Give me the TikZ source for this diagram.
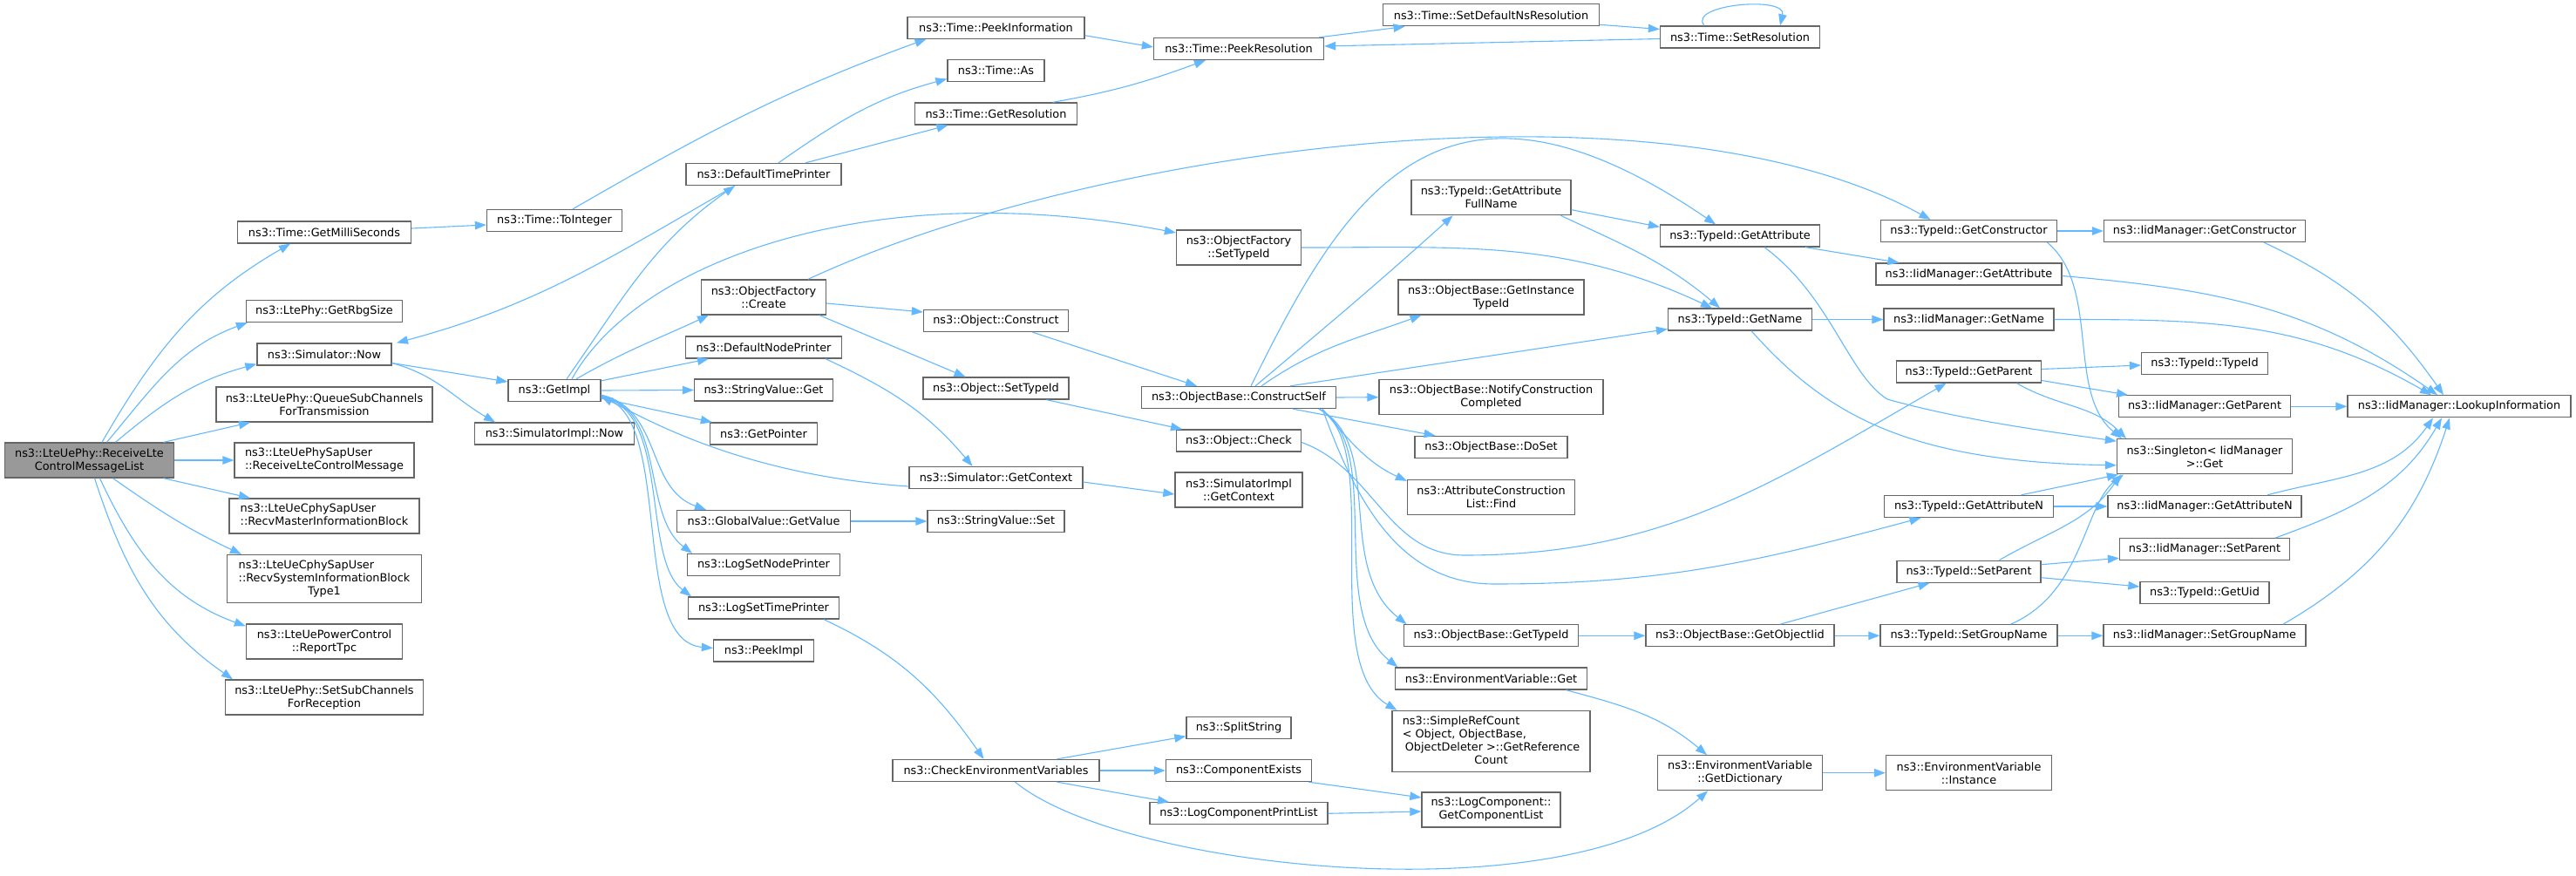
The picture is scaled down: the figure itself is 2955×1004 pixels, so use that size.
\documentclass[tikz,border=0pt]{standalone}
\usepackage{fontspec}
\setmainfont{DejaVu Sans}
\usetikzlibrary{arrows.meta}
\definecolor{edgeblue}{HTML}{63B8FF}
\definecolor{bordergray}{HTML}{666666}
\definecolor{mainfill}{HTML}{999999}
\newcommand{\nfont}{\fontsize{12.85}{15}\selectfont}
\newcommand{\ltwo}[2]{\begin{tabular}{@{}l@{}}#1\\\multicolumn{1}{@{}c@{}}{#2}\end{tabular}}
\tikzset{
  nb/.style={draw=bordergray, line width=1.3pt, fill=white, inner xsep=2pt, inner ysep=0pt, align=center, font=\nfont, text=black},
  hA/.style={minimum height=25pt},
  hB/.style={minimum height=40pt},
  hC/.style={minimum height=55pt},
  hD/.style={minimum height=70pt},
  wd/.style={minimum width=#1pt},
  cl/.style={draw=edgeblue, line width=1.1pt, -{Triangle[length=13pt,width=9.5pt]}},
}
\begin{document}
\begin{tikzpicture}[x=1pt,y=-1pt]
\useasboundingbox (0,0) rectangle (2955,1004);
% column 0/1
\node[nb,hB,wd=194,fill=mainfill] (main) at (102.5,528) {ns3::LteUePhy::ReceiveLte\\ControlMessageList};
\node[nb,hA,wd=199] (gms) at (372,266.5) {ns3::Time::GetMilliSeconds};
\node[nb,hA,wd=179] (grs) at (372,357) {ns3::LtePhy::GetRbgSize};
\node[nb,hA,wd=154] (snow) at (372,406.5) {ns3::Simulator::Now};
\node[nb,hB,wd=248] (qsc) at (372,464) {ns3::LteUePhy::QueueSubChannels\\ForTransmission};
\node[nb,hB,wd=206] (rlcm) at (372,528) {\ltwo{ns3::LteUePhySapUser}{::ReceiveLteControlMessage}};
\node[nb,hB,wd=218] (rmib) at (372,592) {\ltwo{ns3::LteUeCphySapUser}{::RecvMasterInformationBlock}};
\node[nb,hC,wd=223] (rsib) at (372,664) {\begin{tabular}{@{}l@{}}ns3::LteUeCphySapUser\\::RecvSystemInformationBlock\\\multicolumn{1}{@{}c@{}}{Type1}\end{tabular}};
\node[nb,hB,wd=179] (rtpc) at (372,736) {ns3::LteUePowerControl\\::ReportTpc};
\node[nb,hB,wd=227] (sscr) at (372,800) {ns3::LteUePhy::SetSubChannels\\ForReception};
% column 2
\node[nb,hA,wd=155] (toint) at (636,253) {ns3::Time::ToInteger};
\node[nb,hA,wd=106] (gimpl) at (636,448) {ns3::GetImpl};
\node[nb,hA,wd=183] (sinow) at (636,497.5) {ns3::SimulatorImpl::Now};
% column 3
\node[nb,hA,wd=178] (dtp) at (876,200) {ns3::DefaultTimePrinter};
\node[nb,hB,wd=143] (ofc) at (876,341) {ns3::ObjectFactory\\::Create};
\node[nb,hA,wd=179] (dnp) at (876,398.5) {ns3::DefaultNodePrinter};
\node[nb,hA,wd=159] (svget) at (876,447.5) {ns3::StringValue::Get};
\node[nb,hA,wd=123] (gptr) at (876,497.5) {ns3::GetPointer};
\node[nb,hA,wd=199] (gvgv) at (876,598) {ns3::GlobalValue::GetValue};
\node[nb,hA,wd=175] (lsnp) at (876,648) {ns3::LogSetNodePrinter};
\node[nb,hA,wd=173] (lstp) at (876,697.5) {ns3::LogSetTimePrinter};
\node[nb,hA,wd=115] (pimpl) at (876,746.5) {ns3::PeekImpl};
% column 4
\node[nb,hA,wd=203] (tpi) at (1142.5,31.7) {ns3::Time::PeekInformation};
\node[nb,hA,wd=111] (tas) at (1142.5,81) {ns3::Time::As};
\node[nb,hA,wd=186] (tgr) at (1142.5,130.5) {ns3::Time::GetResolution};
\node[nb,hA,wd=166] (ocon) at (1142.5,368) {ns3::Object::Construct};
\node[nb,hA,wd=167] (ost) at (1142.5,445.5) {ns3::Object::SetTypeId};
\node[nb,hA,wd=199] (sgc) at (1142.5,548) {ns3::Simulator::GetContext};
\node[nb,hA,wd=157] (svset) at (1142.5,598) {ns3::StringValue::Set};
\node[nb,hA,wd=237] (cev) at (1142.5,884) {ns3::CheckEnvironmentVariables};
% column 5
\node[nb,hA,wd=195] (tpr) at (1421,56) {ns3::Time::PeekResolution};
\node[nb,hB,wd=143] (ofst) at (1421,284) {ns3::ObjectFactory\\::SetTypeId};
\node[nb,hA,wd=223] (cself) at (1421,456) {ns3::ObjectBase::ConstructSelf};
\node[nb,hA,wd=143] (ochk) at (1421,505.5) {ns3::Object::Check};
\node[nb,hB,wd=146] (sigc) at (1421,562) {ns3::SimulatorImpl\\::GetContext};
\node[nb,hA,wd=120] (split) at (1421,834.7) {ns3::SplitString};
\node[nb,hA,wd=167] (cex) at (1421,884) {ns3::ComponentExists};
\node[nb,hA,wd=204] (lcpl) at (1421,933.3) {ns3::LogComponentPrintList};
% column 6
\node[nb,hA,wd=248] (sdnr) at (1710.5,17.3) {ns3::Time::SetDefaultNsResolution};
\node[nb,hB,wd=183] (gafn) at (1710.5,226.7) {ns3::TypeId::GetAttribute\\FullName};
\node[nb,hB,wd=213] (giti) at (1710.5,341) {ns3::ObjectBase::GetInstance\\TypeId};
\node[nb,hB,wd=257] (ncc) at (1710.5,455.7) {ns3::ObjectBase::NotifyConstruction\\Completed};
\node[nb,hA,wd=175] (doset) at (1710.5,513) {ns3::ObjectBase::DoSet};
\node[nb,hB,wd=192] (acl) at (1710.5,570.5) {ns3::AttributeConstruction\\List::Find};
\node[nb,hA,wd=200] (obgt) at (1710.5,729.3) {ns3::ObjectBase::GetTypeId};
\node[nb,hA,wd=220] (evg) at (1710.5,778.5) {ns3::EnvironmentVariable::Get};
\node[nb,hD,wd=227] (src) at (1710.5,850.5) {\begin{tabular}{@{}l@{}}ns3::SimpleRefCount\\< Object, ObjectBase,\\\hspace{3pt}ObjectDeleter >::GetReference\\\multicolumn{1}{@{}c@{}}{Count}\end{tabular}};
\node[nb,hB,wd=159] (gcl) at (1710.5,929) {ns3::LogComponent::\\GetComponentList};
% column 7
\node[nb,hA,wd=183] (tsr) at (1996,42.5) {ns3::Time::SetResolution};
\node[nb,hA,wd=183] (tga) at (1996,270.5) {ns3::TypeId::GetAttribute};
\node[nb,hA,wd=165] (tgn) at (1996,366.5) {ns3::TypeId::GetName};
\node[nb,hA,wd=216] (goi) at (1996,729.3) {ns3::ObjectBase::GetObjectIid};
\node[nb,hB,wd=189] (gdict) at (1996,886.7) {ns3::EnvironmentVariable\\::GetDictionary};
% column 8
\node[nb,hA,wd=202] (tgc) at (2258.5,265) {ns3::TypeId::GetConstructor};
\node[nb,hA,wd=213] (imga) at (2258.5,314.5) {ns3::IidManager::GetAttribute};
\node[nb,hA,wd=195] (imgn) at (2258.5,366.5) {ns3::IidManager::GetName};
\node[nb,hA,wd=166] (tgp) at (2258.5,426.5) {ns3::TypeId::GetParent};
\node[nb,hA,wd=194] (tgan) at (2258.5,581) {ns3::TypeId::GetAttributeN};
\node[nb,hA,wd=165] (tsp) at (2258.5,655.7) {ns3::TypeId::SetParent};
\node[nb,hA,wd=203] (tsgn) at (2258.5,729.3) {ns3::TypeId::SetGroupName};
\node[nb,hB,wd=190] (inst) at (2258.5,886.7) {ns3::EnvironmentVariable\\::Instance};
% column 9
\node[nb,hA,wd=231] (imgc) at (2529,265) {ns3::IidManager::GetConstructor};
\node[nb,hA,wd=145] (ttid) at (2529,417) {ns3::TypeId::TypeId};
\node[nb,hA,wd=197] (imgp) at (2529,466.3) {ns3::IidManager::GetParent};
\node[nb,hB,wd=201] (sing) at (2529,523.8) {ns3::Singleton< IidManager\\>::Get};
\node[nb,hA,wd=222] (imgan) at (2529,581) {ns3::IidManager::GetAttributeN};
\node[nb,hA,wd=195] (imsp) at (2529,630.3) {ns3::IidManager::SetParent};
\node[nb,hA,wd=148] (guid) at (2529,680) {ns3::TypeId::GetUid};
\node[nb,hA,wd=232] (imsgn) at (2529,729.3) {ns3::IidManager::SetGroupName};
% column 10
\node[nb,hA,wd=256] (lookup) at (2821,466.3) {ns3::IidManager::LookupInformation};

% edges from main
\draw[cl] ([xshift=14.5]main.north) to[out=60,in=210] ([xshift=-39]gms.south);
\draw[cl] ([xshift=20]main.north) to[out=50,in=200] ([xshift=2]grs.south west);
\draw[cl] ([xshift=30]main.north) to[out=40,in=195] ([yshift=2]snow.south west);
\draw[cl] ([xshift=85]main.north) -- ([xshift=-85]qsc.south);
\draw[cl] (main.east) -- (rlcm.west);
\draw[cl] ([xshift=85]main.south) -- ([xshift=-85]rmib.north);
\draw[cl] ([xshift=27]main.south) to[out=-35,in=155] ([xshift=-95]rsib.north);
\draw[cl] ([xshift=12]main.south) to[out=-65,in=160] ([yshift=-3]rtpc.north west);
\draw[cl] ([xshift=6]main.south) to[out=-72,in=145] ([xshift=-105]sscr.north);
% time
\draw[cl] ([yshift=4.5]gms.east) -- ([yshift=-5]toint.west);
\draw[cl] ([xshift=21]toint.north) to[out=30,in=200] ([xshift=-80]tpi.south);
\draw[cl] ([xshift=-33]dtp.south) to[out=210,in=15] ([xshift=83]snow.north);
\draw[cl] ([yshift=-10]snow.east) -- ([yshift=10]gimpl.west);
\draw[cl] ([yshift=-10]snow.east) to[out=-15,in=150] ([xshift=-68]sinow.north);
\draw[cl] ([xshift=14]gimpl.north) to[out=55,in=215] ([xshift=-33]dtp.south);
\draw[cl] ([xshift=20]gimpl.north) .. controls (730,300) and (1000,200) .. ([yshift=17]ofst.west);
\draw[cl] ([xshift=25]gimpl.north) to[out=30,in=205] ([xshift=-63]ofc.south);
\draw[cl] ([yshift=-2]gimpl.north east) -- ([xshift=-63]dnp.south);
\draw[cl] (gimpl.east) -- (svget.west);
\draw[cl] ([yshift=-9]gimpl.east) -- ([xshift=3]gptr.north west);
\draw[cl] ([yshift=-5]gimpl.east) .. controls (760,470) and (740,560) .. ([xshift=-66]gvgv.north);
\draw[cl] ([yshift=-6]gimpl.east) .. controls (765,470) and (735,590) .. ([xshift=-82]lsnp.north);
\draw[cl] ([yshift=-7]gimpl.east) .. controls (770,470) and (735,640) .. ([xshift=-83]lstp.north);
\draw[cl] ([yshift=-8]gimpl.east) .. controls (775,470) and (720,735) .. ([yshift=3]pimpl.west);
\draw[cl] ([yshift=-10]sgc.west) .. controls (850,545) and (740,480) .. ([yshift=-7]gimpl.east);
\draw[cl] ([xshift=71]dnp.south) to[out=-25,in=130] ([xshift=-27]sgc.north);
\draw[cl] ([yshift=-5]sgc.east) -- ([yshift=-5]sigc.west);
\draw[cl] (gvgv.east) -- (svset.west);
\draw[cl] ([xshift=69]lstp.south) to[out=-25,in=125] ([xshift=-14]cev.north);
\draw[cl] ([xshift=70]cev.north) -- ([yshift=-10]split.west);
\draw[cl] (cev.east) -- (cex.west);
\draw[cl] ([xshift=70]cev.south) -- ([xshift=-80]lcpl.north);
\draw[cl] ([xshift=22]cev.south) .. controls (1290,1000) and (1800,1050) .. ([xshift=-37]gdict.south);
\draw[cl] ([xshift=80]cex.south) -- ([yshift=14]gcl.west);
\draw[cl] (lcpl.east) -- ([yshift=-2]gcl.west);
% object factory
\draw[cl] ([yshift=-7]ofc.east) -- ([yshift=10]ocon.west);
\draw[cl] ([xshift=64]ofc.south) -- ([xshift=-35]ost.north);
\draw[cl] ([xshift=51]ofc.north) .. controls (1250,170) and (1900,80) .. ([xshift=-44]tgc.north);
\draw[cl] ([xshift=42]ocon.south) -- ([xshift=-48]cself.north);
\draw[cl] ([xshift=58]ost.south) -- ([xshift=-65]ochk.north);
\draw[cl] (ofst.east) to[out=0,in=155] ([xshift=-32]tgn.north);
% construct self
\draw[cl] ([xshift=14]cself.north) .. controls (1540,230) and (1650,40) .. ([xshift=-28]tga.north);
\draw[cl] ([xshift=19]cself.north) to[out=40,in=222] ([xshift=-44]gafn.south);
\draw[cl] ([xshift=26]cself.north) to[out=35,in=200] ([xshift=-80]giti.south);
\draw[cl] ([xshift=59]cself.north) -- ([yshift=-11]tgn.west);
\draw[cl] (cself.east) -- (ncc.west);
\draw[cl] ([xshift=62]cself.south) -- ([xshift=-64]doset.north);
\draw[cl] ([xshift=96]cself.south) to[out=-50,in=155] ([yshift=-2]acl.north west);
\draw[cl] ([xshift=96]cself.south) to[out=-70,in=180] (1714,670) to[out=0,in=195] ([xshift=-55]tgan.south);
\draw[cl] ([yshift=-2]ochk.east) to[out=-20,in=180] (1680,637) to[out=0,in=210] ([xshift=-26]tgp.south);
\draw[cl] ([xshift=92]cself.south) .. controls (1590,510) and (1530,650) .. ([xshift=-97]obgt.north);
\draw[cl] ([xshift=92]cself.south) .. controls (1590,510) and (1520,700) .. ([xshift=-107]evg.north);
\draw[cl] ([xshift=92]cself.south) .. controls (1590,510) and (1510,760) .. ([xshift=-108]src.north);
% typeid
\draw[cl] ([yshift=-14]gafn.east) -- ([yshift=-3]tga.north west);
\draw[cl] ([xshift=80]gafn.south) to[out=-25,in=140] ([xshift=-23]tgn.north);
\draw[cl] ([xshift=75]tga.south) -- ([xshift=-80]imga.north);
\draw[cl] ([xshift=28]tga.south) .. controls (2100,340) and (2120,430) .. (2165,458) .. controls (2250,482) and (2350,495) .. ([yshift=-3]sing.north west);
\draw[cl] (tgn.east) -- (imgn.west);
\draw[cl] ([xshift=13]tgn.south) .. controls (2090,470) and (2180,530) .. ([yshift=-10]sing.west);
\draw[cl] (tgc.east) -- (imgc.west);
\draw[cl] ([xshift=90]tgc.south) .. controls (2410,330) and (2370,450) .. ([xshift=-95]sing.north);
\draw[cl] ([xshift=68]imgc.south) to[out=-25,in=125] ([xshift=-18]lookup.north);
\draw[cl] ([yshift=-2]imga.east) to[out=-5,in=145] ([xshift=-25]lookup.north);
\draw[cl] (imgn.east) to[out=0,in=150] ([xshift=-32]lookup.north);
\draw[cl] (imgp.east) -- (lookup.west);
\draw[cl] ([xshift=72]imgan.north) to[out=15,in=235] ([xshift=-30]lookup.south);
\draw[cl] ([xshift=81]imsp.north) to[out=20,in=240] ([xshift=-20]lookup.south);
\draw[cl] ([xshift=90]imsgn.north) to[out=30,in=252] ([xshift=-11]lookup.south);
\draw[cl] ([yshift=3]tgp.east) -- ([yshift=-2]ttid.west);
\draw[cl] ([yshift=-10]tgp.east) -- ([xshift=-88]imgp.north);
\draw[cl] ([xshift=55]tgp.south) to[out=-30,in=135] ([xshift=-90]sing.north);
\draw[cl] ([xshift=60]tgan.north) -- ([xshift=2]sing.south west);
\draw[cl] (tgan.east) -- (imgan.west);
\draw[cl] ([xshift=35]tsp.north) to[out=30,in=235] ([xshift=5]sing.south west);
\draw[cl] ([yshift=8]tsp.east) -- ([yshift=-10]imsp.west);
\draw[cl] ([yshift=-7]tsp.east) -- ([yshift=7]guid.west);
\draw[cl] ([xshift=48]tsgn.north) .. controls (2390,680) and (2390,580) .. ([xshift=8]sing.south west);
\draw[cl] (tsgn.east) -- (imsgn.west);
\draw[cl] (obgt.east) -- (goi.west);
\draw[cl] ([xshift=46]goi.north) -- ([xshift=-45]tsp.south);
\draw[cl] (goi.east) -- (tsgn.west);
\draw[cl] ([xshift=86]evg.south) to[out=-15,in=140] ([xshift=-38]gdict.north);
\draw[cl] (gdict.east) -- (inst.west);
% resolution
\draw[cl] ([yshift=-9]tpi.east) -- ([yshift=2]tpr.west);
\draw[cl] ([xshift=65]tgr.north) to[out=10,in=200] ([xshift=-38]tpr.south);
\draw[cl] ([xshift=92]tpr.north) -- ([xshift=-99]sdnr.south);
\draw[cl] ([yshift=-11]sdnr.east) -- ([yshift=9]tsr.west);
\draw[cl] ([yshift=-2]tsr.west) -- ([yshift=3]tpr.east);
\draw[cl] ([xshift=-41]tsr.north) .. controls (1935,5) and (2050,-5) .. ([xshift=46]tsr.north);
\draw[cl] ([xshift=17]dtp.north) to[out=35,in=195] ([yshift=-9.5]tas.west);
\draw[cl] ([xshift=48]dtp.north) -- ([xshift=-55]tgr.south);
\end{tikzpicture}
\end{document}
